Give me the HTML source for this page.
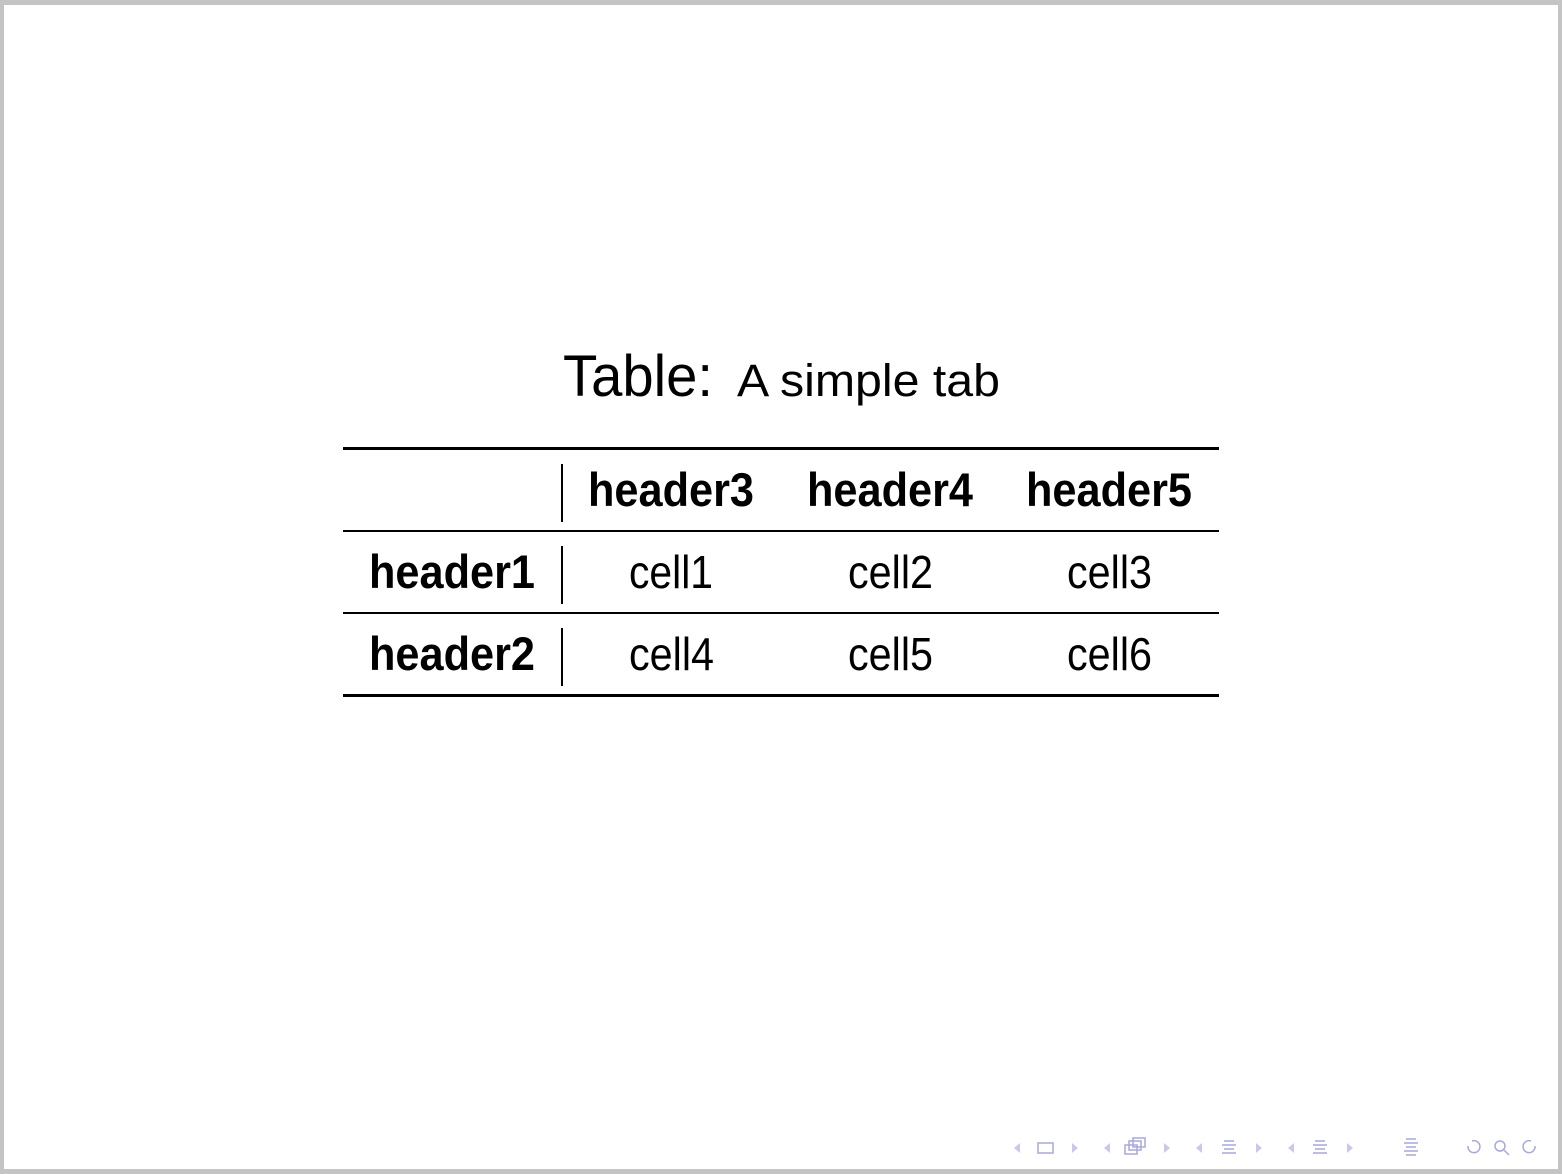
<!DOCTYPE html>
<html><head><meta charset="utf-8"><style>
html,body{margin:0;padding:0;width:1562px;height:1174px;background:#c4c4c4;overflow:hidden}
.page{position:absolute;left:4px;top:5px;width:1554px;height:1164px;background:#fff}
svg{position:absolute;left:0;top:0}
text{font-family:"Liberation Sans",sans-serif;fill:#000}
.b{font-weight:bold;font-size:47px}
.n{font-size:46px}
</style></head><body>
<div class="page"></div>
<svg width="1562" height="1174" viewBox="0 0 1562 1174">
<text x="563" y="396" font-size="58" textLength="150" lengthAdjust="spacingAndGlyphs">Table:</text>
<text x="737" y="396" font-size="45" textLength="263" lengthAdjust="spacingAndGlyphs">A simple tab</text>
<rect x="343" y="447" width="876" height="3"/>
<rect x="343" y="530" width="876" height="2"/>
<rect x="343" y="612" width="876" height="2"/>
<rect x="343" y="694" width="876" height="3"/>
<rect x="561" y="464" width="2" height="58"/>
<rect x="561" y="546" width="2" height="58"/>
<rect x="561" y="628" width="2" height="58"/>
<text class="b" x="588" y="506" textLength="166" lengthAdjust="spacingAndGlyphs">header3</text>
<text class="b" x="807" y="506" textLength="166" lengthAdjust="spacingAndGlyphs">header4</text>
<text class="b" x="1026" y="506" textLength="166" lengthAdjust="spacingAndGlyphs">header5</text>
<text class="b" x="369" y="588" textLength="166" lengthAdjust="spacingAndGlyphs">header1</text>
<text class="b" x="369" y="670" textLength="166" lengthAdjust="spacingAndGlyphs">header2</text>
<text class="n" x="629" y="588" textLength="84" lengthAdjust="spacingAndGlyphs">cell1</text>
<text class="n" x="848" y="588" textLength="85" lengthAdjust="spacingAndGlyphs">cell2</text>
<text class="n" x="1067" y="588" textLength="85" lengthAdjust="spacingAndGlyphs">cell3</text>
<text class="n" x="629" y="670" textLength="85" lengthAdjust="spacingAndGlyphs">cell4</text>
<text class="n" x="848" y="670" textLength="85" lengthAdjust="spacingAndGlyphs">cell5</text>
<text class="n" x="1067" y="670" textLength="85" lengthAdjust="spacingAndGlyphs">cell6</text>
<g fill="#c8c8ea" stroke="none">
<polygon points="1020,1143 1014,1148 1020,1153"/>
<polygon points="1072,1143 1078,1148 1072,1153"/>
<polygon points="1110,1143 1104,1148 1110,1153"/>
<polygon points="1164,1143 1170,1148 1164,1153"/>
<polygon points="1202,1143 1196,1148 1202,1153"/>
<polygon points="1256,1143 1262,1148 1256,1153"/>
<polygon points="1294,1143 1288,1148 1294,1153"/>
<polygon points="1347,1143 1353,1148 1347,1153"/>
</g>
<g fill="none" stroke="#a8a8dc" stroke-width="1.5">
<rect x="1038" y="1143" width="15" height="10"/>
<rect x="1125" y="1145" width="12" height="9"/>
<rect x="1129" y="1141" width="12" height="9"/>
<rect x="1133" y="1138" width="12" height="9"/>
<path d="M1224 1141h10M1222 1145h14M1224 1149h10M1222 1153h14"/>
<path d="M1315 1141h10M1313 1145h14M1315 1149h10M1313 1153h14"/>
<path d="M1406 1139h10M1404 1143h14M1406 1147h10M1404 1151h14M1406 1155h10"/>
<path d="M1468 1146a6 6 0 1 0 4 -5"/>
<circle cx="1500" cy="1146" r="5"/>
<path d="M1504 1150l5 5"/>
<path d="M1535 1146a6 6 0 1 1 -4 -5"/>
</g>
</svg>
</body></html>
